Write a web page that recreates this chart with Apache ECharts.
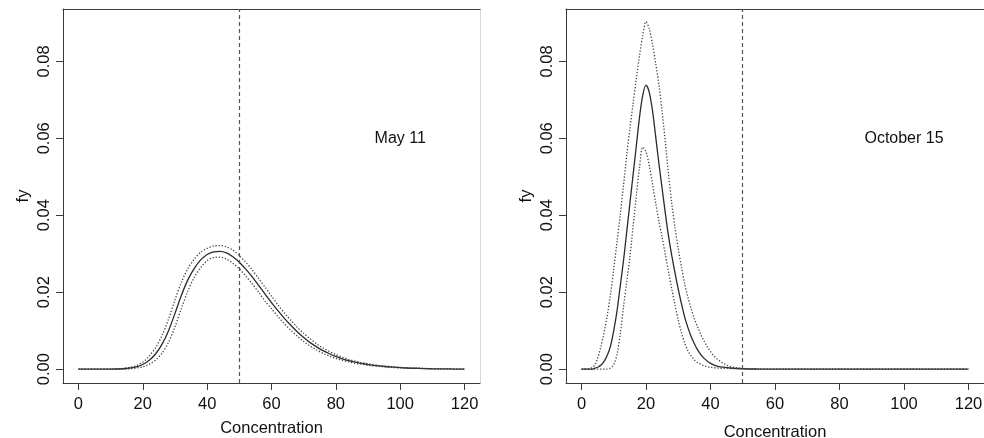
<!DOCTYPE html>
<html>
<head>
<meta charset="utf-8">
<script src="https://cdn.jsdelivr.net/npm/echarts@6/dist/echarts.min.js"></script>
<style>
  html, body { margin: 0; padding: 0; background: #fff; }
  #chart { width: 984px; height: 438px; }
</style>
</head>
<body>
<div id="chart"></div>
<script>
// tick labels
const xTicks = [0, 20, 40, 60, 80, 100, 120];
const yTicks = [0, 0.02, 0.04, 0.06, 0.08];
const cutoff = 50;
const panelLabels = ['May 11', 'October 15'];
const labelAt = [100, 0.06];

// May 11: fitted density and its band, [concentration, fy]
const mayFit = [[0,0],[10,0],[14,0.0001],[16,0.0003],[18,0.0006],[20,0.0012],[22,0.0023],[24,0.0040],[26,0.0065],[28,0.0100],[30,0.0145],[32,0.0192],[34,0.0232],[36,0.0262],[38,0.0284],[40,0.0298],[42,0.0305],[44,0.0306],[46,0.0302],[48,0.0292],[50,0.0278],[52,0.0260],[54,0.0240],[56,0.0218],[58,0.0195],[60,0.0173],[62,0.0152],[64,0.0132],[66,0.0114],[68,0.0097],[70,0.0082],[72,0.0069],[74,0.0058],[76,0.0048],[78,0.0040],[80,0.0033],[82,0.0027],[84,0.0022],[86,0.0018],[88,0.0015],[90,0.0012],[94,0.0008],[98,0.0005],[102,0.0003],[106,0.0002],[110,0.0001],[115,0.00005],[120,0]];
const mayUpper = [[0,0],[10,0],[14,0.0002],[16,0.0005],[18,0.0009],[20,0.0018],[22,0.0034],[24,0.0056],[26,0.0088],[28,0.0130],[30,0.0180],[32,0.0226],[34,0.0261],[36,0.0286],[38,0.0304],[40,0.0314],[42,0.0320],[44,0.0321],[46,0.0318],[48,0.0309],[50,0.0295],[52,0.0278],[54,0.0258],[56,0.0236],[58,0.0213],[60,0.0190],[62,0.0167],[64,0.0146],[66,0.0127],[68,0.0109],[70,0.0093],[72,0.0079],[74,0.0066],[76,0.0055],[78,0.0046],[80,0.0038],[82,0.0031],[84,0.0025],[86,0.0021],[88,0.0017],[90,0.0014],[94,0.0009],[98,0.0006],[102,0.00035],[106,0.00023],[110,0.00012],[115,0.00005],[120,0]];
const mayLower = [[0,0],[10,0],[14,0],[16,0.0001],[18,0.0003],[20,0.0006],[22,0.0013],[24,0.0024],[26,0.0042],[28,0.0070],[30,0.0110],[32,0.0158],[34,0.0203],[36,0.0239],[38,0.0264],[40,0.0282],[42,0.0290],[44,0.0291],[46,0.0286],[48,0.0275],[50,0.0261],[52,0.0242],[54,0.0222],[56,0.0200],[58,0.0177],[60,0.0157],[62,0.0137],[64,0.0118],[66,0.0101],[68,0.0086],[70,0.0072],[72,0.0060],[74,0.0050],[76,0.0041],[78,0.0034],[80,0.0028],[82,0.0023],[84,0.0019],[86,0.0015],[88,0.0013],[90,0.0010],[94,0.0007],[98,0.0004],[102,0.00025],[106,0.00017],[110,0.00008],[115,0.00004],[120,0]];

// October 15
const octFit = [[0,0],[3,0],[4,0.0002],[5,0.0005],[6,0.0010],[7,0.0020],[8,0.0036],[9,0.0060],[10,0.0100],[11,0.0150],[12,0.0215],[13,0.0280],[14,0.0355],[15,0.0430],[16,0.0505],[17,0.0580],[18,0.0655],[19,0.0712],[20,0.0738],[21,0.0720],[22,0.0673],[23,0.0605],[24,0.0535],[25,0.0470],[26,0.0405],[27,0.0345],[28,0.0295],[29,0.0250],[30,0.0208],[31,0.0170],[32,0.0135],[33,0.0108],[34,0.0085],[35,0.0066],[36,0.0050],[37,0.0038],[38,0.0028],[40,0.0015],[42,0.0008],[44,0.0005],[46,0.0003],[50,0.0001],[55,0.00003],[60,0],[120,0]];
const octUpper = [[0,0],[2,0.0001],[3,0.0003],[4,0.0009],[5,0.0028],[6,0.0058],[7,0.0095],[8,0.0140],[9,0.0195],[10,0.0260],[11,0.0330],[12,0.0400],[13,0.0475],[14,0.0555],[15,0.0625],[16,0.0690],[17,0.0755],[18,0.0815],[19,0.0868],[20,0.0903],[21,0.0885],[22,0.0845],[23,0.0795],[24,0.0740],[25,0.0670],[26,0.0590],[27,0.0505],[28,0.0430],[29,0.0368],[30,0.0313],[31,0.0265],[32,0.0222],[33,0.0187],[34,0.0157],[35,0.0131],[36,0.0110],[37,0.0090],[38,0.0073],[39,0.0058],[40,0.0046],[41,0.0035],[42,0.0027],[44,0.0015],[46,0.0007],[48,0.0004],[50,0.0002],[55,0.00005],[60,0],[120,0]];
const octLower = [[0,0],[8,0],[9,0.0003],[10,0.0012],[11,0.0038],[12,0.0090],[13,0.0160],[14,0.0225],[15,0.0291],[16,0.0370],[17,0.0450],[18,0.0525],[19,0.0577],[20,0.0565],[21,0.0530],[22,0.0482],[23,0.0432],[24,0.0385],[25,0.0343],[26,0.0298],[27,0.0252],[28,0.0208],[29,0.0167],[30,0.0128],[31,0.0095],[32,0.0068],[33,0.0048],[34,0.0034],[35,0.0024],[36,0.0017],[38,0.0009],[40,0.0005],[42,0.0003],[45,0.0002],[50,0.0001],[55,0],[120,0]];

const font = 'Liberation Sans, Arial, Helvetica, sans-serif';
const ink = '#111';
const frame = '#3a3a3a';
const X_MIN = -4.8, X_MAX = 124.8, Y_MIN = -0.0036, Y_MAX = 0.0936;

const chart = echarts.init(document.getElementById('chart'), null, { renderer: 'canvas' });

function bottomAxis(grid, gap) {
  return {
    type: 'value', gridIndex: grid, position: 'bottom', min: X_MIN, max: X_MAX,
    name: 'Concentration', nameLocation: 'middle', nameGap: gap,
    nameTextStyle: { fontFamily: font, fontSize: 16.5, color: ink },
    axisLine: { show: true, onZero: false, lineStyle: { color: frame, width: 1 } },
    axisTick: { show: true, length: 7, customValues: xTicks, lineStyle: { color: frame } },
    axisLabel: { customValues: xTicks, margin: 13, fontFamily: font, fontSize: 16.5, color: ink },
    splitLine: { show: false }
  };
}
function topAxis(grid) {
  return {
    type: 'value', gridIndex: grid, position: 'top', min: X_MIN, max: X_MAX,
    axisLine: { show: true, onZero: false, lineStyle: { color: frame, width: 1 } },
    axisTick: { show: false }, axisLabel: { show: false }, splitLine: { show: false }
  };
}
function leftAxis(grid) {
  return {
    type: 'value', gridIndex: grid, position: 'left', min: Y_MIN, max: Y_MAX,
    name: 'fy', nameLocation: 'middle', nameGap: 31,
    nameTextStyle: { fontFamily: font, fontSize: 16.5, color: ink },
    axisLine: { show: true, onZero: false, lineStyle: { color: frame, width: 1 } },
    axisTick: { show: true, length: 7, customValues: yTicks, lineStyle: { color: frame } },
    axisLabel: {
      customValues: yTicks, rotate: 90, margin: 10, fontFamily: font, fontSize: 16.5, color: ink,
      formatter: v => v.toFixed(2)
    },
    splitLine: { show: false }
  };
}
function rightAxis(grid) {
  return {
    type: 'value', gridIndex: grid, position: 'right', min: Y_MIN, max: Y_MAX,
    axisLine: { show: true, onZero: false, lineStyle: { color: '#d8d8d8', width: 1 } },
    axisTick: { show: false }, axisLabel: { show: false }, splitLine: { show: false }
  };
}

function panel(i, fit, upper, lower) {
  const dotted = { color: '#444', width: 1.3, type: [1.3, 1.8] };
  return [
    {
      type: 'line', xAxisIndex: i * 2, yAxisIndex: i * 2, data: fit,
      showSymbol: false, smooth: 0.3, lineStyle: { color: '#2a2a2a', width: 1.3 },
      markLine: {
        silent: true, symbol: 'none', label: { show: false },
        lineStyle: { color: '#555', width: 1.2, type: [4, 3] },
        data: [{ xAxis: cutoff }]
      },
      z: 3
    },
    { type: 'line', xAxisIndex: i * 2, yAxisIndex: i * 2, data: upper, showSymbol: false, smooth: 0.3, lineStyle: dotted },
    { type: 'line', xAxisIndex: i * 2, yAxisIndex: i * 2, data: lower, showSymbol: false, smooth: 0.3, lineStyle: dotted },
    {
      type: 'scatter', xAxisIndex: i * 2, yAxisIndex: i * 2, data: [labelAt], symbolSize: 0,
      itemStyle: { opacity: 1 },
      label: { show: true, position: 'inside', formatter: panelLabels[i], fontFamily: font, fontSize: 16, color: ink, opacity: 1 }
    }
  ];
}

chart.setOption({
  backgroundColor: '#fff',
  animation: false,
  grid: [
    { left: 63, top: 9, width: 417, height: 374, outerBoundsMode: 'none', containLabel: false },
    { left: 566, top: 9, width: 418, height: 374, outerBoundsMode: 'none', containLabel: false }
  ],
  xAxis: [bottomAxis(0, 37), topAxis(0), bottomAxis(1, 41), topAxis(1)],
  yAxis: [leftAxis(0), rightAxis(0), leftAxis(1), rightAxis(1)],
  series: [].concat(
    panel(0, mayFit, mayUpper, mayLower),
    panel(1, octFit, octUpper, octLower)
  )
});
</script>
</body>
</html>
